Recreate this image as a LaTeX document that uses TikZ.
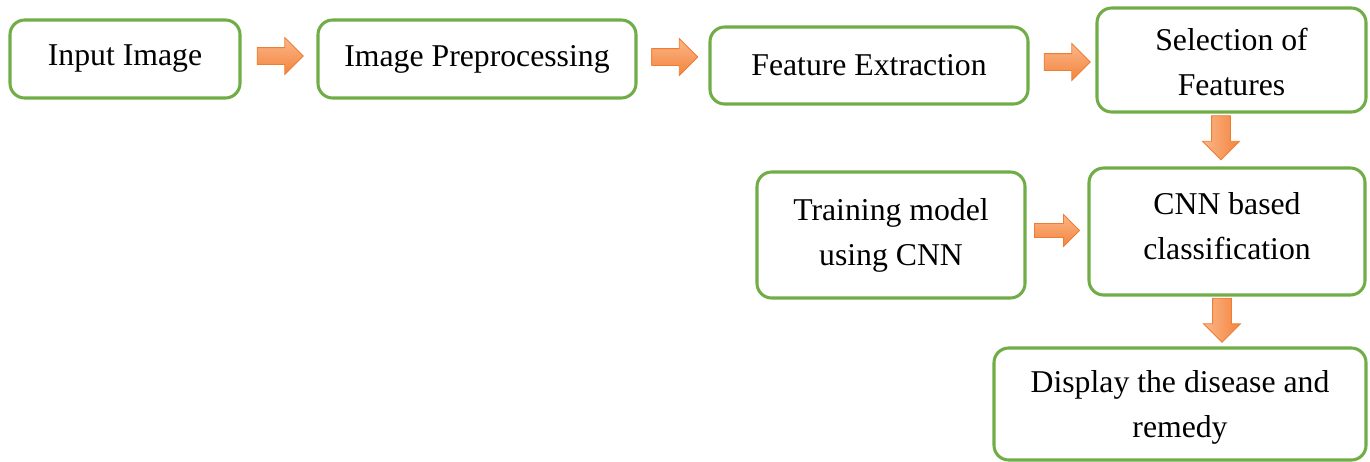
\documentclass[tikz,border=0pt]{standalone}
\usepackage{fontspec}
\setmainfont{Liberation Serif}
\usetikzlibrary{shapes.arrows}
\definecolor{boxgreen}{HTML}{70AD47}
\definecolor{arrlight}{HTML}{FBB68A}
\definecolor{arrdark}{HTML}{F3843C}
\definecolor{arrborder}{HTML}{ED7D31}
\begin{document}
\begin{tikzpicture}[x=0.75pt,y=-0.75pt,
 box/.style={draw=boxgreen,line width=2.3pt,rounded corners=11pt,align=center,
   font=\fontsize{23.8}{33.75}\selectfont,inner sep=0pt},
 blockarrow/.style={single arrow,draw=arrborder,line width=0.6pt,
   single arrow head indent=0pt},
 harrow/.style={blockarrow,top color=arrlight,bottom color=arrdark},
 varrow/.style={blockarrow,shape border rotate=270,left color=arrlight,right color=arrdark}]
\useasboundingbox (0,0) rectangle (1370,461);

\node[box,minimum width=172.5pt,minimum height=58.5pt] (b1) at (125,59) {Input Image};
\node[box,minimum width=238.5pt,minimum height=58.5pt] (b2) at (477,59) {Image Preprocessing};
\node[box,minimum width=238.5pt,minimum height=57.75pt] (b3) at (869,65.5) {Feature Extraction};
\node[box,minimum width=201.75pt,minimum height=78pt] (b4) at (1231.5,60) {\rule{0pt}{20pt}Selection of\\Features};
\node[box,minimum width=201pt,minimum height=94.5pt] (b5) at (891,235) {Training model\\using CNN};
\node[box,minimum width=207pt,minimum height=95.25pt] (b6) at (1227,231.5) {CNN based\\classification\rule[-8pt]{0pt}{8pt}};
\node[box,minimum width=279pt,minimum height=84pt] (b7) at (1180,404) {\rule{0pt}{22pt}Display the disease and\\remedy};

\node[harrow,inner sep=6pt,minimum height=34.5pt,single arrow head extend=7.5pt] (a1) at (276,56) {};
\node[harrow,inner sep=6pt,minimum height=34.5pt,single arrow head extend=7.5pt] (a2) at (670.5,57) {};
\node[harrow,inner sep=6pt,minimum height=34.5pt,single arrow head extend=7.5pt] (a3) at (1063,62) {};
\node[harrow,inner sep=4.9pt,minimum height=33.75pt,single arrow head extend=6.75pt] (a4) at (1053.5,230.5) {};
\node[varrow,inner sep=6.75pt,minimum height=33pt,single arrow head extend=6.75pt] (d1) at (1221,133) {};
\node[varrow,inner sep=6.75pt,minimum height=33pt,single arrow head extend=6.75pt] (d2) at (1222,315.5) {};
\end{tikzpicture}
\end{document}
